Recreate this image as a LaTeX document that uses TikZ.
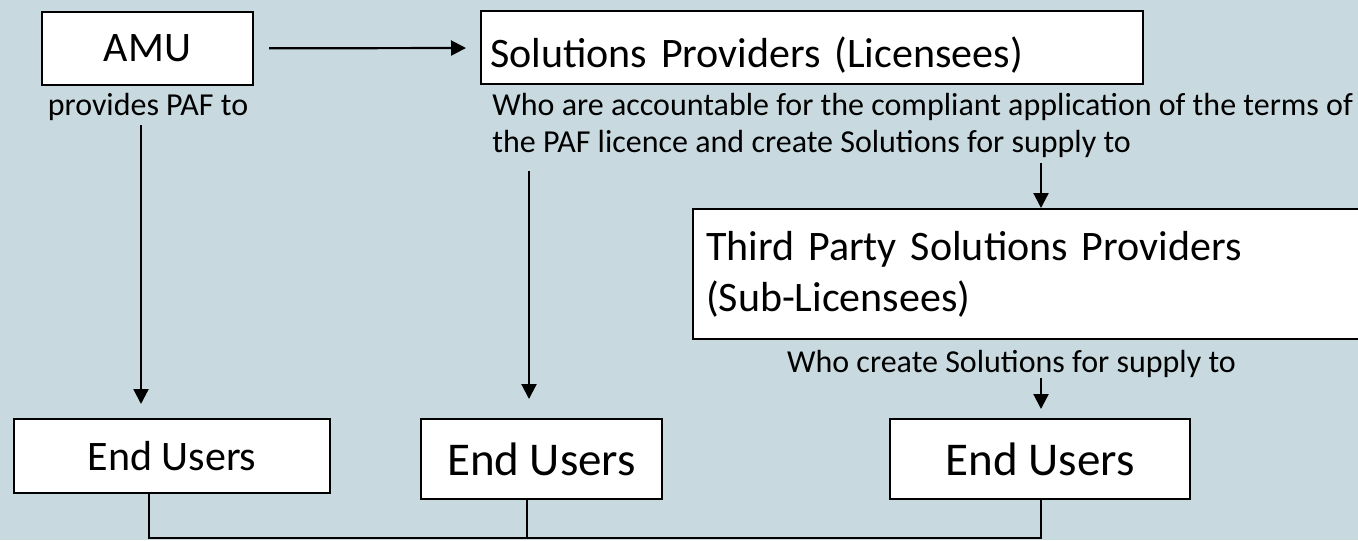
\documentclass[tikz,border=0pt]{standalone}
\usepackage{fontspec}
\setmainfont{Carlito}
\usetikzlibrary{arrows.meta}
\definecolor{panel}{RGB}{200,218,223}
\tikzset{
  box/.style={draw, fill=white, line width=1pt, inner sep=0pt},
  big/.style={font=\fontsize{21}{25.5}\selectfont},
  bigger/.style={font=\fontsize{23.5}{28}\selectfont},
  small/.style={font=\fontsize{16}{18.5}\selectfont, inner sep=0pt},
  flow/.style={line width=1.1pt, -{Triangle[length=7.5pt,width=7.5pt]}},
  link/.style={line width=0.6pt},
}
\begin{document}
\begin{tikzpicture}[x=0.5pt, y=-0.5pt]
      \clip (0,0) rectangle (1358,540);
      \fill[panel] (0,0) rectangle (1358,540);
      \draw
        (147.5,48.5) node[box, big, minimum width=105.5pt, minimum height=36.5pt] (amu){AMU}
        (812,47.5) node[box, big, minimum width=331pt, minimum height=36.5pt, text width=322pt,
          align=left, text height=20.5pt, text depth=0pt] (sp){Solutions Providers (Licensees)}
        (1031.5,274) node[box, big, minimum height=65pt, text width=325.5pt, inner xsep=6.5pt,
          align=left] (tp){Third Party Solutions Providers\\(Sub-Licensees)}
        (172,456) node[box, big, minimum width=158pt, minimum height=37pt] (eu1){End Users}
        (541.5,459) node[box, bigger, minimum width=120.5pt, minimum height=40pt] (eu2){End Users}
        (1040,459) node[box, bigger, minimum width=150pt, minimum height=40pt] (eu3){End Users};
      \draw
        (148,115) node[small, anchor=base] (amutxt){provides PAF to}
        (492,152) node[small, anchor=base west, align=left] (sptxt){Who are accountable for the compliant application of the terms of\\the PAF licence and create Solutions for supply to}
        (1011.5,372) node[small, anchor=base] (tptxt){Who create Solutions for supply to};
      \coordinate (d1) at (141,125);
      \coordinate (d2) at (529,171);
      \coordinate (d3) at (1041,163);
      \coordinate (d4) at (1041,378);
      \coordinate (j1) at (149,538);
      \coordinate (j2) at (527,538);
      \coordinate (j3) at (1041,538);
      \begin{scope}[flow]
        \draw[shorten <=7.5pt, shorten >=7pt] (amu) to (sp);
        \draw[shorten >=7pt] (d1) to (d1 |- eu1.north);
        \draw[shorten >=9.5pt] (d2) to (d2 |- eu2.north);
        \draw (d3) to (d3 |- tp.north);
        \draw[shorten >=4.5pt] (d4) to (d4 |- eu3.north);
      \end{scope}
      \begin{scope}[link]
        \draw (j1 |- eu1.south) to (j1) to (j3) to (j3 |- eu3.south);
        \draw (j2 |- eu2.south) to (j2);
      \end{scope}
    \end{tikzpicture}
\end{document}
